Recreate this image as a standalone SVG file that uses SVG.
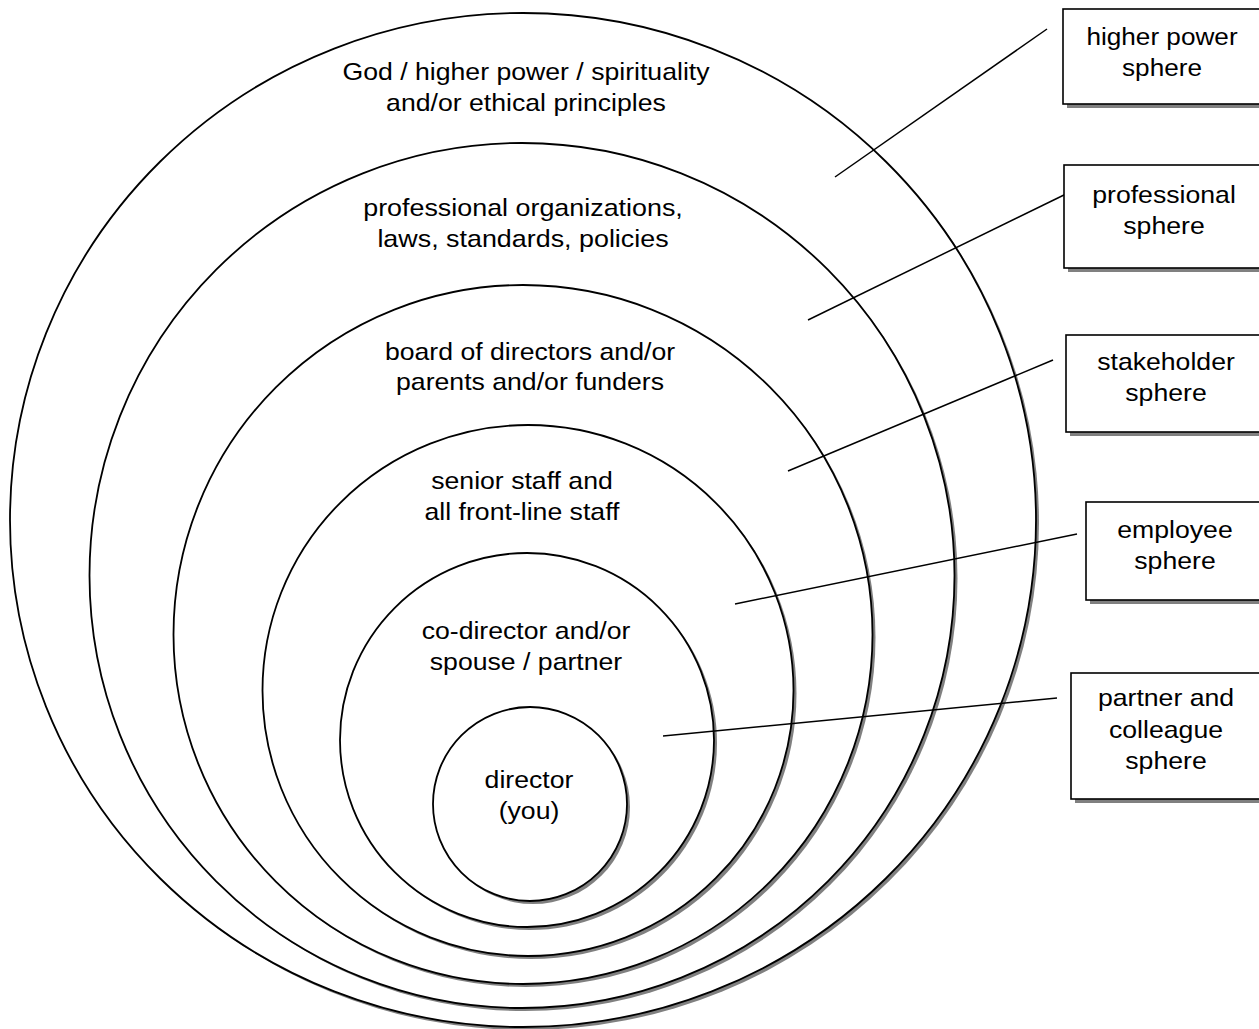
<svg xmlns="http://www.w3.org/2000/svg" width="1259" height="1029" viewBox="0 0 1259 1029">
<style>
.ring{fill:#fff;stroke:#000;stroke-width:1.8}
.shd{fill:#808080;stroke:none}
.box{fill:#fff;stroke:#000;stroke-width:1.6}
.lbl{font-family:"Liberation Sans",Arial,sans-serif;font-size:24px;fill:#000;text-anchor:middle}
.conn{stroke:#000;stroke-width:1.5;fill:none}
</style>
<rect width="1259" height="1029" fill="#fff"/>
<g id="higher-power">
<ellipse class="shd" cx="526" cy="523" rx="513" ry="507"/>
<ellipse class="ring" cx="523" cy="520" rx="513" ry="507"/>
<g transform="translate(526 0) scale(1.11 1)">
<text class="lbl" x="0" y="80">God / higher power / spirituality</text>
<text class="lbl" x="0" y="111">and/or ethical principles</text>
</g>
</g>
<g id="professional">
<circle class="shd" cx="525" cy="578.5" r="432.5"/>
<circle class="ring" cx="522" cy="575.5" r="432.5"/>
<g transform="translate(523 0) scale(1.12 1)">
<text class="lbl" x="0" y="216">professional organizations,</text>
<text class="lbl" x="0" y="247">laws, standards, policies</text>
</g>
</g>
<g id="stakeholder">
<circle class="shd" cx="526" cy="637.5" r="349.5"/>
<circle class="ring" cx="523" cy="634.5" r="349.5"/>
<g transform="translate(530 0) scale(1.11 1)">
<text class="lbl" x="0" y="360">board of directors and/or</text>
<text class="lbl" x="0" y="390">parents and/or funders</text>
</g>
</g>
<g id="employee">
<circle class="shd" cx="531" cy="693.5" r="265.5"/>
<circle class="ring" cx="528" cy="690.5" r="265.5"/>
<g transform="translate(522 0) scale(1.11 1)">
<text class="lbl" x="0" y="489">senior staff and</text>
<text class="lbl" x="0" y="520">all front-line staff</text>
</g>
</g>
<g id="partner">
<circle class="shd" cx="530" cy="743" r="187"/>
<circle class="ring" cx="527" cy="740" r="187"/>
<g transform="translate(526 0) scale(1.11 1)">
<text class="lbl" x="0" y="639">co-director and/or</text>
<text class="lbl" x="0" y="670">spouse / partner</text>
</g>
</g>
<g id="director">
<circle class="shd" cx="533" cy="807" r="97"/>
<circle class="ring" cx="530" cy="804" r="97"/>
<g transform="translate(529 0) scale(1.11 1)">
<text class="lbl" x="0" y="788">director</text>
<text class="lbl" x="0" y="819">(you)</text>
</g>
</g>
<g id="connectors">
<line class="conn" x1="835" y1="177" x2="1047" y2="29"/>
<line class="conn" x1="808" y1="320" x2="1066" y2="194"/>
<line class="conn" x1="788" y1="471" x2="1053" y2="360"/>
<line class="conn" x1="735" y1="604" x2="1077" y2="534"/>
<line class="conn" x1="663" y1="736" x2="1057" y2="698"/>
</g>
<g id="box-higher-power">
<rect class="shd" x="1067" y="13" width="200" height="95"/>
<rect class="box" x="1063" y="9" width="200" height="95"/>
<g transform="translate(1162 0) scale(1.09 1)">
<text class="lbl" x="0" y="45">higher power</text>
<text class="lbl" x="0" y="76">sphere</text>
</g>
</g>
<g id="box-professional">
<rect class="shd" x="1068" y="169" width="200" height="103"/>
<rect class="box" x="1064" y="165" width="200" height="103"/>
<g transform="translate(1164 0) scale(1.11 1)">
<text class="lbl" x="0" y="203">professional</text>
<text class="lbl" x="0" y="234">sphere</text>
</g>
</g>
<g id="box-stakeholder">
<rect class="shd" x="1070" y="339" width="200" height="97"/>
<rect class="box" x="1066" y="335" width="200" height="97"/>
<g transform="translate(1166 0) scale(1.11 1)">
<text class="lbl" x="0" y="370">stakeholder</text>
<text class="lbl" x="0" y="401">sphere</text>
</g>
</g>
<g id="box-employee">
<rect class="shd" x="1090" y="506" width="200" height="98"/>
<rect class="box" x="1086" y="502" width="200" height="98"/>
<g transform="translate(1175 0) scale(1.11 1)">
<text class="lbl" x="0" y="538">employee</text>
<text class="lbl" x="0" y="569">sphere</text>
</g>
</g>
<g id="box-partner">
<rect class="shd" x="1075" y="677" width="200" height="126"/>
<rect class="box" x="1071" y="673" width="200" height="126"/>
<g transform="translate(1166 0) scale(1.11 1)">
<text class="lbl" x="0" y="706">partner and</text>
<text class="lbl" x="0" y="738">colleague</text>
<text class="lbl" x="0" y="769">sphere</text>
</g>
</g>
</svg>
